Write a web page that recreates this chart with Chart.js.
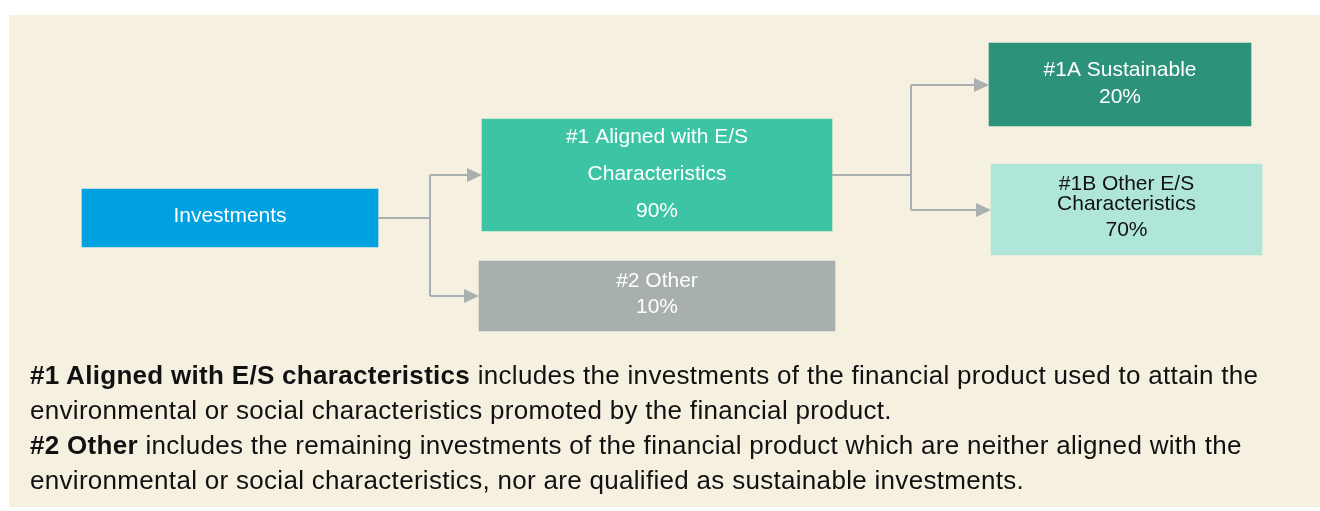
<!DOCTYPE html>
<html>
<head>
<meta charset="utf-8">
<script src="https://cdn.jsdelivr.net/npm/chart.js@4.4.1/dist/chart.umd.min.js"></script>
<style>
  html, body { margin: 0; padding: 0; background: #ffffff; }
  #wrap { position: relative; width: 1320px; height: 511px; }
  #panel { position: absolute; left: 9px; top: 15px; width: 1311px; height: 492px; background: #f6f0e1; }
  #chart { position: absolute; left: 0; top: 0; }
  #notes {
    position: absolute; left: 30px; top: 358px; width: 1290px;
    font-family: "Liberation Sans", Arial, sans-serif; font-size: 26px;
    letter-spacing: 0.3px; white-space: nowrap;
    line-height: 35px; color: #111111; margin: 0;
  }
</style>
</head>
<body>
<div id="wrap">
  <div id="panel"></div>
  <canvas id="chart" width="1320" height="511"></canvas>
  <p id="notes">
    <b>#1 Aligned with E/S characteristics</b> includes the investments of the financial product used to attain the<br>
    environmental or social characteristics promoted by the financial product.<br>
    <b>#2 Other</b> includes the remaining investments of the financial product which are neither aligned with the<br>
    environmental or social characteristics, nor are qualified as sustainable investments.
  </p>
</div>
<script>
// Diagram content
const categories = ["Investments", "#1 Aligned with E/S Characteristics", "#2 Other", "#1A Sustainable", "#1B Other E/S Characteristics"];
const shares = [null, 90, 10, 20, 70];
// text lines inside each box (label split as in the picture)
const boxLines = [
  ["Investments"],
  ["#1 Aligned with E/S", "Characteristics"],
  ["#2 Other"],
  ["#1A Sustainable"],
  ["#1B Other E/S", "Characteristics"]
];

// Layout (pixel space of the 1320x511 picture): [x0, x1, yTop, yBottom]
const boxLayout = [
  [82, 378, 189, 247],
  [482, 832, 119, 231],
  [479, 835, 261, 331],
  [989, 1251, 43, 126],
  [991, 1262, 164, 255]
];
const boxColors = ["#00a1e0", "#3dc4a4", "#a8b0af", "#2c927a", "#b0e6da"];
const textColors = ["#ffffff", "#ffffff", "#ffffff", "#ffffff", "#111111"];
// y of each text line centre, per box
const lineY = [
  [216],
  [137, 174, 211],
  [281, 307],
  [70, 97],
  [184, 204, 230]
];
// connectors: from box, split x, targets
const links = [
  { from: 0, splitX: 430, fromY: 218, to: [[1, 175], [2, 296]] },
  { from: 1, splitX: 911, fromY: 175, to: [[3, 85], [4, 210]] }
];

const datasets = categories.map((name, i) => {
  const b = boxLayout[i];
  return {
    label: name,
    data: [{ x: [b[0], b[1]], y: (b[2] + b[3]) / 2 }],
    backgroundColor: boxColors[i],
    barThickness: b[3] - b[2],
    borderWidth: 0,
    grouped: false
  };
});

const diagramPlugin = {
  id: "diagram",
  afterDatasetsDraw(chart) {
    const ctx = chart.ctx;
    const sx = v => chart.scales.x.getPixelForValue(v);
    const sy = v => chart.scales.y.getPixelForValue(v);
    ctx.save();

    // connectors
    ctx.strokeStyle = "#a9b0af";
    ctx.fillStyle = "#a9b0af";
    ctx.lineWidth = 2;
    links.forEach(l => {
      const fb = boxLayout[l.from];
      const ys = l.to.map(t => t[1]);
      ctx.beginPath();
      ctx.moveTo(sx(fb[1]), sy(l.fromY));
      ctx.lineTo(sx(l.splitX), sy(l.fromY));
      ctx.moveTo(sx(l.splitX), sy(Math.min(...ys)));
      ctx.lineTo(sx(l.splitX), sy(Math.max(...ys)));
      ctx.stroke();
      l.to.forEach(t => {
        const tipX = boxLayout[t[0]][0];
        ctx.beginPath();
        ctx.moveTo(sx(l.splitX), sy(t[1]));
        ctx.lineTo(sx(tipX - 14), sy(t[1]));
        ctx.stroke();
        ctx.beginPath();
        ctx.moveTo(sx(tipX), sy(t[1]));
        ctx.lineTo(sx(tipX - 15), sy(t[1] - 7));
        ctx.lineTo(sx(tipX - 15), sy(t[1] + 7));
        ctx.closePath();
        ctx.fill();
      });
    });

    // box texts
    ctx.textAlign = "center";
    ctx.textBaseline = "middle";
    ctx.font = "21px 'Liberation Sans', Arial, sans-serif";
    categories.forEach((name, i) => {
      const b = boxLayout[i];
      const cx = sx((b[0] + b[1]) / 2);
      const lines = boxLines[i].slice();
      if (shares[i] !== null) lines.push(shares[i] + "%");
      ctx.fillStyle = textColors[i];
      lines.forEach((txt, k) => {
        ctx.fillText(txt, cx, sy(lineY[i][k]));
      });
    });
    ctx.restore();
  }
};

new Chart(document.getElementById("chart").getContext("2d"), {
  type: "bar",
  data: { datasets: datasets },
  options: {
    indexAxis: "y",
    responsive: false,
    animation: false,
    layout: { padding: 0 },
    plugins: { legend: { display: false }, tooltip: { enabled: false } },
    scales: {
      x: { type: "linear", min: 0, max: 1320, display: false, offset: false },
      y: { type: "linear", min: 0, max: 511, reverse: true, display: false, offset: false }
    }
  },
  plugins: [diagramPlugin]
});
</script>
</body>
</html>
